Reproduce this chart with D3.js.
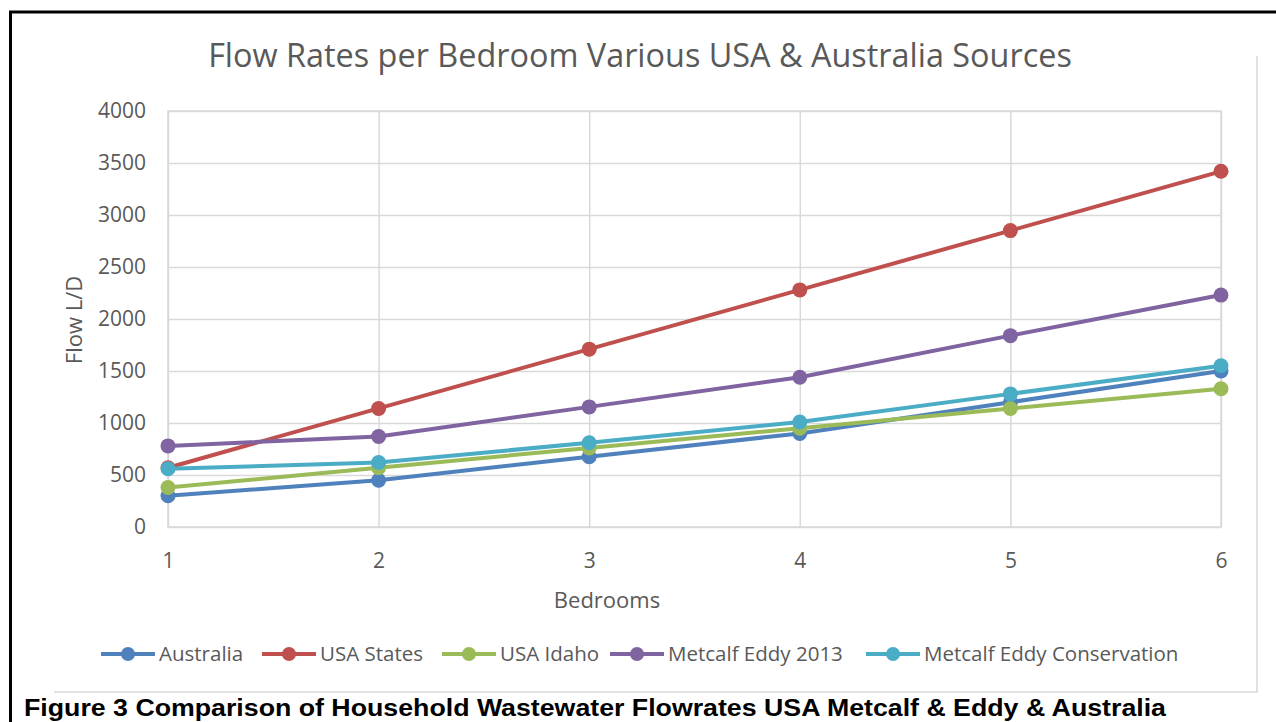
<!DOCTYPE html>
<html>
<head>
<meta charset="utf-8">
<script src="https://cdn.jsdelivr.net/npm/d3@7"></script>
<style>
  html, body { margin: 0; padding: 0; background: #fff; }
  svg { display: block; }
</style>
</head>
<body>
<svg id="chart" width="1276" height="722"></svg>
<script>
// Bedroom counts along the horizontal axis
const bedrooms = [1, 2, 3, 4, 5, 6];

// Daily flow (L/D) per series
const australia     = [300, 450, 675, 900, 1200, 1500];
const usaStates     = [570, 1140, 1710, 2280, 2850, 3420];
const usaIdaho      = [380, 570, 760, 950, 1140, 1330];
const metcalf2013   = [780, 870, 1155, 1440, 1840, 2230];
const metcalfConsv  = [560, 620, 810, 1010, 1280, 1550];

const seriesNames  = ["Australia", "USA States", "USA Idaho", "Metcalf Eddy 2013", "Metcalf Eddy Conservation"];
const seriesColors = ["#4F81BD", "#C0504D", "#9BBB59", "#8064A2", "#4BACC6"];
const yTicks = [0, 500, 1000, 1500, 2000, 2500, 3000, 3500, 4000];

const chartTitle = "Flow Rates per Bedroom Various USA & Australia Sources";
const xTitle = "Bedrooms";
const yTitle = "Flow L/D";
const caption = "Figure 3 Comparison of Household Wastewater Flowrates USA Metcalf & Eddy & Australia";

const series = [australia, usaStates, usaIdaho, metcalf2013, metcalfConsv].map((vals, i) => ({
  name: seriesNames[i],
  color: seriesColors[i],
  points: vals.map((v, j) => ({ x: bedrooms[j], y: v }))
}));

const svg = d3.select("#chart");
const font = "'Open Sans', 'Noto Sans', sans-serif";
const textGray = "#595959";
const gridGray = "#D9D9D9";

const plot = { left: 168, right: 1221, top: 111, bottom: 527 };

const x = d3.scaleLinear().domain([1, 6]).range([plot.left, plot.right]);
const y = d3.scaleLinear().domain([0, 4000]).range([plot.bottom, plot.top]);

// Outer document frame
svg.append("path")
  .attr("d", "M10.5,722 L10.5,12 L1276,12")
  .attr("fill", "none").attr("stroke", "#000").attr("stroke-width", 3);

// Chart area edges
svg.append("path")
  .attr("d", "M54,692 L1257,692 L1257,56")
  .attr("fill", "none").attr("stroke", gridGray).attr("stroke-width", 1.5);

// Title
svg.append("text")
  .attr("x", 640).attr("y", 67)
  .attr("text-anchor", "middle")
  .attr("font-family", font).attr("font-size", 32.4)
  .attr("fill", textGray)
  .text(chartTitle);

// Horizontal gridlines + y axis labels
const yAxis = d3.axisLeft(y).tickValues(yTicks).tickSize(-(plot.right - plot.left)).tickPadding(22).tickFormat(d3.format("d"));
const gy = svg.append("g").attr("transform", `translate(${plot.left},0)`).call(yAxis);
gy.select(".domain").remove();
gy.selectAll(".tick line").attr("stroke", gridGray).attr("stroke-width", 1.5);
gy.selectAll(".tick text").attr("font-family", font).attr("font-size", 21).attr("fill", textGray);

// Vertical gridlines + x axis labels
const xAxis = d3.axisBottom(x).tickValues(bedrooms).tickSize(-(plot.bottom - plot.top)).tickPadding(26).tickFormat(d3.format("d"));
const gx = svg.append("g").attr("transform", `translate(0,${plot.bottom})`).call(xAxis);
gx.select(".domain").remove();
gx.selectAll(".tick line").attr("stroke", gridGray).attr("stroke-width", 1.5);
gx.selectAll(".tick text").attr("font-family", font).attr("font-size", 21).attr("fill", textGray);

// Plot area border
svg.append("rect")
  .attr("x", plot.left).attr("y", plot.top)
  .attr("width", plot.right - plot.left).attr("height", plot.bottom - plot.top)
  .attr("fill", "none").attr("stroke", gridGray).attr("stroke-width", 1.5);

// Axis titles
svg.append("text")
  .attr("x", 607).attr("y", 608)
  .attr("text-anchor", "middle")
  .attr("font-family", font).attr("font-size", 22).attr("fill", textGray)
  .text(xTitle);

svg.append("text")
  .attr("transform", "translate(82,320) rotate(-90)")
  .attr("text-anchor", "middle")
  .attr("font-family", font).attr("font-size", 22).attr("fill", textGray)
  .text(yTitle);

// Series lines and markers
const line = d3.line().x(d => x(d.x)).y(d => y(d.y));
series.forEach(s => {
  const g = svg.append("g");
  g.append("path")
    .attr("d", line(s.points))
    .attr("fill", "none").attr("stroke", s.color)
    .attr("stroke-width", 4).attr("stroke-linejoin", "round").attr("stroke-linecap", "round");
  g.selectAll("circle").data(s.points).join("circle")
    .attr("cx", d => x(d.x)).attr("cy", d => y(d.y))
    .attr("r", 7.5).attr("fill", s.color);
});

// Legend: swatch line with marker, then label; items laid out left to right
const legend = svg.append("g");
const legendStarts = [101, 262, 442, 610, 866];
const ly = 654;
series.forEach((s, i) => {
  const lx = legendStarts[i];
  const item = legend.append("g");
  item.append("line")
    .attr("x1", lx).attr("x2", lx + 54).attr("y1", ly).attr("y2", ly)
    .attr("stroke", s.color).attr("stroke-width", 4);
  item.append("circle").attr("cx", lx + 27).attr("cy", ly).attr("r", 7).attr("fill", s.color);
  item.append("text")
    .attr("x", lx + 58).attr("y", ly)
    .attr("dy", "0.35em")
    .attr("font-family", font).attr("font-size", 20.5).attr("fill", textGray)
    .text(s.name);
});

// Figure caption
svg.append("text")
  .attr("x", 24).attr("y", 716)
  .attr("font-family", "'Liberation Sans', Arial, sans-serif")
  .attr("font-weight", "bold").attr("font-size", 23.5).attr("fill", "#000")
  .attr("textLength", 1142).attr("lengthAdjust", "spacingAndGlyphs")
  .text(caption);
</script>
</body>
</html>
